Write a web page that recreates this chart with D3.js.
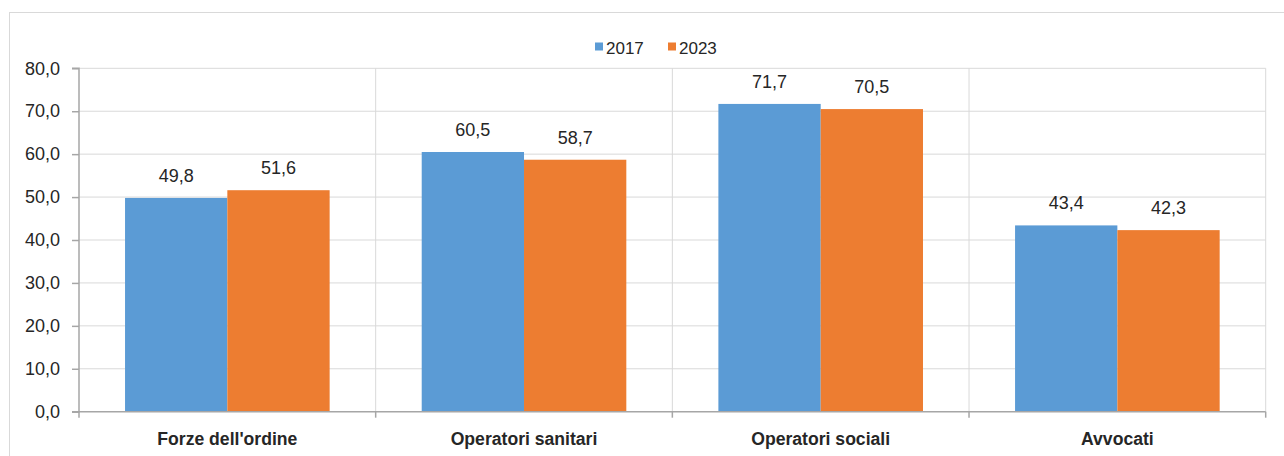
<!DOCTYPE html>
<html><head><meta charset="utf-8">
<script src="https://cdn.jsdelivr.net/npm/d3@7"></script>
<style>body{margin:0;background:#fff}svg{display:block}text{font-family:"Liberation Sans",Arial,sans-serif;fill:#262626}</style>
</head><body><svg id="c" width="1284" height="456"></svg>
<script>
const categories = ["Forze dell'ordine","Operatori sanitari","Operatori sociali","Avvocati"];
const seriesNames = ["2017","2023"];
const values2017 = [49.8,60.5,71.7,43.4];
const values2023 = [51.6,58.7,70.5,42.3];
const yTicks = [0,10,20,30,40,50,60,70,80];
const colors = ["#5B9BD5","#ED7D31"];

const svg = d3.select("#c");
const fmt = v => d3.format(".1f")(v).replace(".", ",");
const L=79, R=1265.7, T=68.3, B=411.7;

svg.append("rect").attr("x",9.5).attr("y",12.5).attr("width",1290).attr("height",460)
  .attr("fill","none").attr("stroke","#d9d9d9");

const x0 = d3.scaleBand().domain(categories).range([L,R]).padding(0);
const gap = 0.9;
const bw = x0.bandwidth();
const side = bw*gap/2/(seriesNames.length+gap);
const x1 = d3.scaleBand().domain(seriesNames).range([side, bw-side]).padding(0);
const y = d3.scaleLinear().domain([0,80]).range([B,T]);

// gridlines
svg.append("g").selectAll("line").data(yTicks.slice(1)).join("line")
  .attr("x1",L).attr("x2",R).attr("y1",d=>y(d)).attr("y2",d=>y(d))
  .attr("stroke","#d9d9d9").attr("stroke-width",1);
const bounds = categories.map(c=>x0(c)).slice(1).concat([R]);
svg.append("g").selectAll("line").data(bounds).join("line")
  .attr("x1",d=>d).attr("x2",d=>d).attr("y1",T).attr("y2",B)
  .attr("stroke","#d9d9d9").attr("stroke-width",1);

// bars
const data = categories.map((c,i)=>({c, vals:[values2017[i],values2023[i]]}));
const g = svg.append("g").selectAll("g").data(data).join("g")
  .attr("transform",d=>`translate(${x0(d.c)},0)`);
g.selectAll("rect").data(d=>d.vals.map((v,j)=>({v,s:seriesNames[j],j}))).join("rect")
  .attr("x",d=>x1(d.s)).attr("width",x1.bandwidth())
  .attr("y",d=>y(d.v)).attr("height",d=>B-y(d.v)).attr("fill",d=>colors[d.j]);
g.selectAll("text").data(d=>d.vals.map((v,j)=>({v,s:seriesNames[j],j}))).join("text")
  .attr("x",d=>x1(d.s)+x1.bandwidth()/2).attr("y",d=>y(d.v)-16)
  .attr("text-anchor","middle").attr("font-size",18).text(d=>fmt(d.v));

// y axis
const yAxis = d3.axisLeft(y).tickValues(yTicks).tickFormat(fmt).tickSize(7).tickPadding(12);
const ya = svg.append("g").attr("transform",`translate(${L},0)`).call(yAxis);
ya.select(".domain").attr("stroke","#a6a6a6").attr("stroke-width",1.5).attr("d",`M-7,${T}H0V${B}H-7`);
ya.selectAll(".tick line").attr("stroke","#a6a6a6").attr("stroke-width",1.5);
ya.selectAll(".tick text").attr("font-size",18).attr("font-family","'Liberation Sans',Arial,sans-serif").attr("fill","#262626");

// x axis
const xa = svg.append("g").attr("transform",`translate(0,${B})`);
xa.append("line").attr("x1",L).attr("x2",R).attr("y1",0).attr("y2",0).attr("stroke","#a6a6a6").attr("stroke-width",1.5);
xa.selectAll("line.t").data([L].concat(bounds)).join("line").attr("class","t")
  .attr("x1",d=>d).attr("x2",d=>d).attr("y1",0).attr("y2",6).attr("stroke","#a6a6a6").attr("stroke-width",1.5);
xa.selectAll("text").data(categories).join("text")
  .attr("x",d=>x0(d)+x0.bandwidth()/2).attr("y",33).attr("text-anchor","middle")
  .attr("font-size",17.6).attr("font-weight","bold").text(d=>d);

// legend
const leg = svg.append("g");
const lx = [595,668];
seriesNames.forEach((s,i)=>{
  leg.append("rect").attr("x",lx[i]).attr("y",42.5).attr("width",8).attr("height",8).attr("fill",colors[i]);
  leg.append("text").attr("x",lx[i]+11).attr("y",53.5).attr("font-size",17).text(s);
});
</script></body></html>
